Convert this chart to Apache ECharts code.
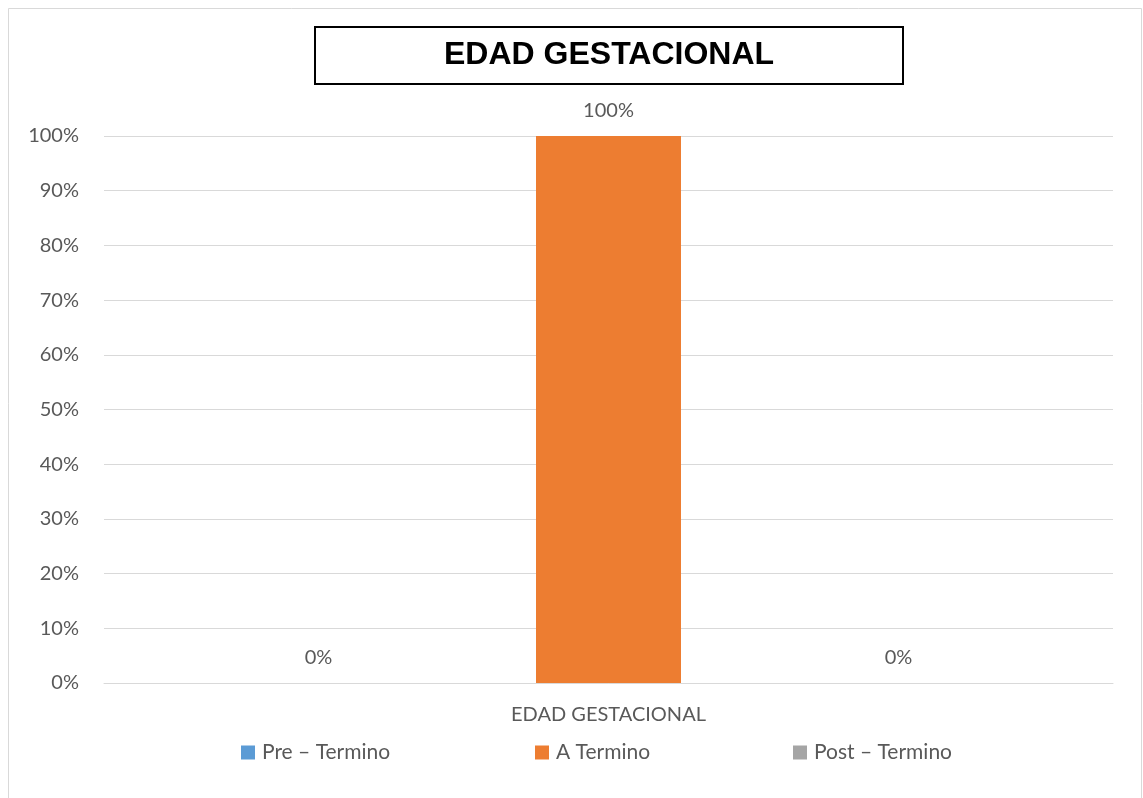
<!DOCTYPE html>
<html>
<head>
<meta charset="utf-8">
<script src="https://cdn.jsdelivr.net/npm/echarts@6/dist/echarts.min.js"></script>
<style>html,body{margin:0;padding:0;background:#fff}#c{width:1143px;height:798px}</style>
</head>
<body>
<div id="c"></div>
<script>
const titleText = "EDAD GESTACIONAL";
const categories = ["EDAD GESTACIONAL"];
const seriesNames = ["Pre – Termino", "A Termino", "Post – Termino"];
const preTermino = [0];
const aTermino = [100];
const postTermino = [0];
const seriesColors = ["#5B9BD5", "#ED7D31", "#A5A5A5"];

const chart = echarts.init(document.getElementById('c'), null, {renderer: 'canvas'});
const FONT = 'Lato';
const TXT = '#595959';
const values = [preTermino, aTermino, postTermino];
const legendLefts = [241, 535, 793];

const option = {
  animation: false,
  backgroundColor: '#fff',
  graphic: [{
    type: 'rect',
    shape: {x: 8.5, y: 8.5, width: 1133, height: 800},
    style: {fill: 'none', stroke: '#d9d9d9', lineWidth: 1},
    silent: true
  }],
  title: {
    text: titleText,
    left: 315,
    top: 27,
    padding: [12, 129, 13, 129],
    borderColor: '#000',
    borderWidth: 2,
    textStyle: {fontFamily: 'Liberation Sans', fontWeight: 'bold', fontSize: 32, color: '#000'}
  },
  legend: seriesNames.map((name, i) => ({
    data: [name],
    left: legendLefts[i],
    top: 742,
    padding: 0,
    itemWidth: 14,
    itemHeight: 14,
    itemGap: 0,
    icon: 'rect',
    textStyle: {fontFamily: FONT, fontSize: 21, color: TXT, padding: [0, 0, 0, 2]}
  })),
  grid: {left: 104, right: 30, top: 136, bottom: 115, containLabel: false},
  xAxis: {
    type: 'category',
    data: categories,
    axisLine: {lineStyle: {color: '#d9d9d9', width: 1}},
    axisTick: {show: false},
    axisLabel: {fontFamily: FONT, fontSize: 20, color: TXT, margin: 22}
  },
  yAxis: {
    type: 'value',
    min: 0,
    max: 100,
    interval: 10,
    axisLine: {show: false},
    axisTick: {show: false},
    splitLine: {lineStyle: {color: '#d9d9d9', width: 1}},
    axisLabel: {fontFamily: FONT, fontSize: 20, color: TXT, margin: 25, padding: [3, 0, 0, 0], formatter: v => v + '%'}
  },
  series: seriesNames.map((name, i) => ({
    name: name,
    type: 'bar',
    data: values[i],
    barWidth: 145,
    barGap: '100%',
    itemStyle: {color: seriesColors[i]},
    label: {
      show: true,
      position: 'top',
      distance: 15,
      fontFamily: FONT,
      fontSize: 20,
      color: TXT,
      formatter: p => p.value + '%'
    }
  }))
};
chart.setOption(option);
</script>
</body>
</html>
